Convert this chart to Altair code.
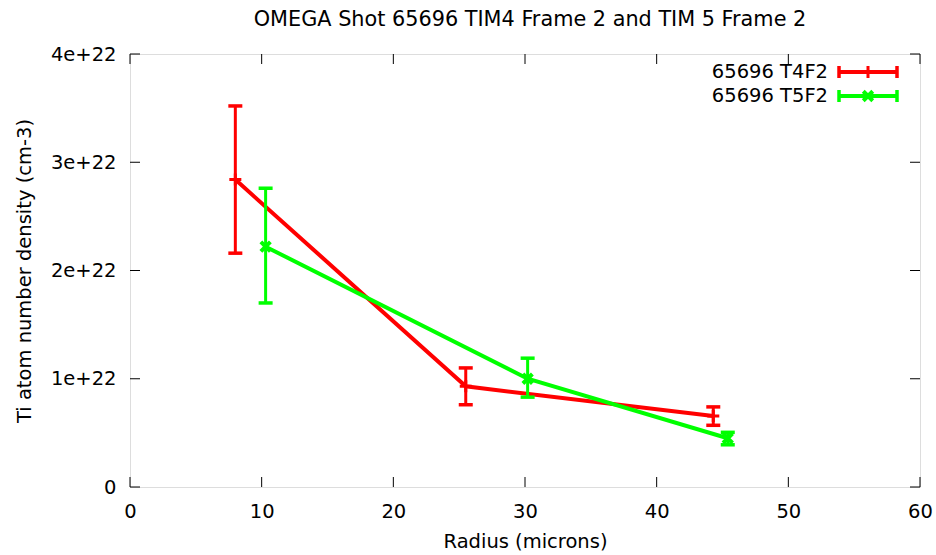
import altair as alt
import pandas as pd

# ---- data ----
series_names = ["65696 T4F2", "65696 T5F2"]
series_colors = ["#ff0000", "#00ff00"]

red_x = [8.0, 25.5, 44.3]
red_y = [2.84e22, 0.93e22, 0.655e22]
red_lo = [2.16e22, 0.76e22, 0.57e22]
red_hi = [3.52e22, 1.10e22, 0.74e22]

green_x = [10.3, 30.2, 45.4]
green_y = [2.22e22, 1.00e22, 0.45e22]
green_lo = [1.70e22, 0.83e22, 0.39e22]
green_hi = [2.76e22, 1.19e22, 0.505e22]

x_ticks = [0, 10, 20, 30, 40, 50, 60]
y_ticks = [0, 1e22, 2e22, 3e22, 4e22]

title_text = "OMEGA Shot 65696 TIM4 Frame 2 and TIM 5 Frame 2"
x_title = "Radius (microns)"
y_title = "Ti atom number density (cm-3)"

FONT = "DejaVu Sans"
FS = 19.5
W, H = 790, 433

rows = []
for name, xs, ys, los, his in [
    (series_names[0], red_x, red_y, red_lo, red_hi),
    (series_names[1], green_x, green_y, green_lo, green_hi),
]:
    for i in range(len(xs)):
        rows.append({"series": name, "r": xs[i], "n": ys[i], "lo": los[i], "hi": his[i], "order": i})
df = pd.DataFrame(rows)

xs = alt.Scale(domain=[0, 60], nice=False, zero=False)
ys = alt.Scale(domain=[0, 4e22], nice=False, zero=False)
cs = alt.Scale(domain=series_names, range=series_colors)

X = alt.X("r:Q", scale=xs, title=x_title,
          axis=alt.Axis(values=x_ticks, tickSize=0, domain=False, grid=False, labelFlush=False,
                        labelFont=FONT, labelFontSize=FS, labelColor="black",
                        labelPadding=15, titleFont=FONT, titleFontSize=FS,
                        titleFontWeight="normal", titleColor="black", titlePadding=12))
Y = alt.Y("n:Q", scale=ys, title=y_title,
          axis=alt.Axis(values=y_ticks, tickSize=0, domain=False, grid=False, labelFlush=False,
                        labelExpr="datum.value == 0 ? '0' : format(datum.value/1e22, 'd') + 'e+22'",
                        labelFont=FONT, labelFontSize=FS, labelColor="black",
                        labelPadding=14, titleFont=FONT, titleFontSize=FS,
                        titleFontWeight="normal", titleColor="black", titlePadding=16))
C = alt.Color("series:N", scale=cs, legend=None)

base = alt.Chart(df)

lines = base.mark_line(strokeWidth=4).encode(x=X, y=Y, color=C, order="order:Q")
bars = base.mark_rule(strokeWidth=3).encode(x="r:Q", y="lo:Q", y2="hi:Q", color=C)
cap_lo = base.mark_tick(orient="horizontal", size=14, thickness=3.5, opacity=1).encode(x="r:Q", y="lo:Q", color=C)
cap_hi = base.mark_tick(orient="horizontal", size=14, thickness=3.5, opacity=1).encode(x="r:Q", y="hi:Q", color=C)

plus_path = "M-1,0L1,0M0,-1L0,1"
x_path = "M-1,-1L1,1M-1,1L1,-1"
pts_red = base.transform_filter(alt.datum.series == series_names[0]).mark_point(
    shape=plus_path, size=144, strokeWidth=3, filled=False, opacity=1).encode(x="r:Q", y="n:Q", color=C)
pts_green = base.transform_filter(alt.datum.series == series_names[1]).mark_point(
    shape=x_path, size=90, strokeWidth=4, filled=False, opacity=1).encode(x="r:Q", y="n:Q", color=C)

# inward ticks on all four sides
tx = alt.Chart(pd.DataFrame({"t": x_ticks}))
ty = alt.Chart(pd.DataFrame({"t": y_ticks}))
tick_style = dict(color="black", strokeWidth=1)
ticks_bottom = tx.mark_rule(**tick_style).encode(x=alt.X("t:Q", scale=xs), y=alt.value(H), y2=alt.value(H - 10))
ticks_top = tx.mark_rule(**tick_style).encode(x=alt.X("t:Q", scale=xs), y=alt.value(0), y2=alt.value(10))
ticks_left = ty.mark_rule(**tick_style).encode(y=alt.Y("t:Q", scale=ys), x=alt.value(0), x2=alt.value(10))
ticks_right = ty.mark_rule(**tick_style).encode(y=alt.Y("t:Q", scale=ys), x=alt.value(W), x2=alt.value(W - 10))

# legend (gnuplot-style key)
legend_layers = []
key_df = pd.DataFrame({"series": series_names})
for i, name in enumerate(series_names):
    yy = 18 + 24 * i
    k = alt.Chart(key_df).transform_filter(alt.datum.series == name)
    legend_layers.append(k.mark_text(align="right", baseline="middle", font=FONT, fontSize=FS, color="black").encode(
        text="series:N", x=alt.value(698), y=alt.value(yy)))
    legend_layers.append(k.mark_rule(strokeWidth=4).encode(
        x=alt.value(709), x2=alt.value(767), y=alt.value(yy), color=C))
    for xx in (709, 767):
        legend_layers.append(k.mark_rule(strokeWidth=3.5).encode(
            x=alt.value(xx), y=alt.value(yy - 6), y2=alt.value(yy + 6), color=C))
    legend_layers.append(k.mark_point(
        shape=plus_path if i == 0 else x_path, size=144 if i == 0 else 90,
        strokeWidth=3 if i == 0 else 4, filled=False, opacity=1).encode(
        x=alt.value(738), y=alt.value(yy), color=C))

chart = alt.layer(
    lines, bars, cap_lo, cap_hi, pts_red, pts_green,
    ticks_bottom, ticks_top, ticks_left, ticks_right,
    *legend_layers,
).properties(
    width=W, height=H,
    title=alt.Title(title_text, font=FONT, fontSize=20.8, fontWeight="normal", color="black",
                    offset=13, dx=5),
    autosize=alt.AutoSizeParams(type="none"),
    padding={"left": 130, "top": 54, "right": 16, "bottom": 68},
).configure_view(stroke="black", strokeWidth=1.2).configure(background="white")

chart.save("out.html", embed_options={"renderer": "svg", "actions": False})
